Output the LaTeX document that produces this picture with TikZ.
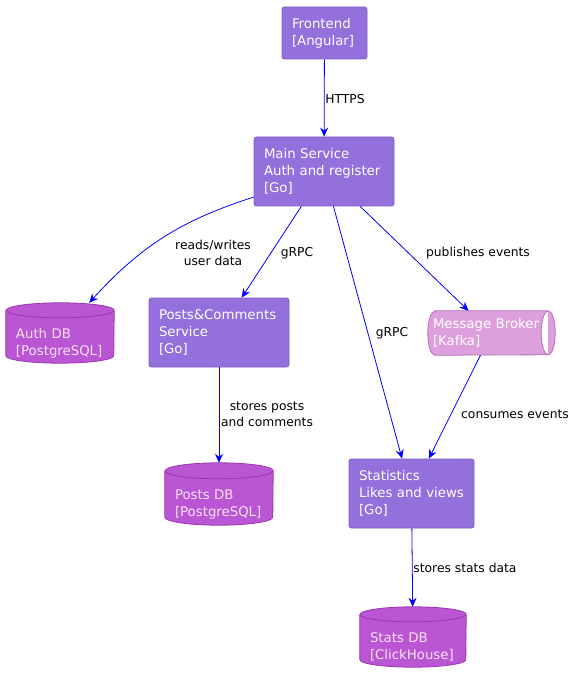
\documentclass[tikz,border=0pt]{standalone}
\usepackage{fontspec}
\usetikzlibrary{arrows.meta,calc,backgrounds}
\newfontfamily\dvsans{DejaVu Sans}
\definecolor{compfill}{HTML}{9370DB}
\definecolor{compline}{HTML}{7E5BC4}
\definecolor{dbfill}{HTML}{BA55D3}
\definecolor{dbline}{HTML}{9B35B3}
\definecolor{dbtext}{HTML}{F6E2F6}
\definecolor{mqfill}{HTML}{DDA0DD}
\definecolor{mqline}{HTML}{B56EBF}
% upright cylinder round a node: [style](node)(x radius:y radius)
\def\dbcyl[#1](#2)(#3:#4){\draw[#1] ($(#2.north west)+(0pt,-#4)$) -- ($(#2.south west)+(0pt,#4)$) arc (180:360:#3 and #4) -- ($(#2.north east)+(0pt,-#4)$) arc (0:180:#3 and #4) -- cycle ($(#2.north west)+(0pt,-#4)$) arc (180:360:#3 and #4);}
% lying cylinder round a node: [style](node)(x radius:y radius)
\def\mqcyl[#1](#2)(#3:#4){\draw[#1] ($(#2.north west)+(#3,0pt)$) -- ($(#2.north east)+(-#3,0pt)$) arc (90:-90:#3 and #4) -- ($(#2.south west)+(#3,0pt)$) arc (270:90:#3 and #4) -- cycle ($(#2.north east)+(-#3,0pt)$) arc (90:270:#3 and #4);}
\tikzset{
	comp/.style={rectangle, draw=compline, fill=compfill, rounded corners=2.5pt, text=white, align=left,
		font=\dvsans\fontsize{13.3}{17}\selectfont, inner xsep=10pt, inner ysep=0pt, line width=0.8pt},
	queue/.style={rectangle, text=white, align=left,
		font=\dvsans\fontsize{13.3}{17}\selectfont, inner xsep=5pt, inner ysep=0pt},
	store/.style={queue, text=dbtext, inner xsep=10pt, execute at begin node={\rule{0pt}{30pt}}},
	rel/.style={draw=blue, line width=0.8pt, -{Stealth[length=9pt,width=8pt,inset=3pt]}},
	lbl/.style={font=\dvsans\fontsize{12.3}{16}\selectfont, align=center, inner sep=0pt}
}

\begin{document}
\begin{tikzpicture}[x=1pt, y=-1pt]
			%%%%% START %%%%%
			\useasboundingbox (0, 0) rectangle (577, 684);
			
			\node[comp, text width=65, minimum width=85, minimum height=52] (front) at (324.5, 33) {Frontend\\{[Angular]}};
			\node[comp, text width=120, minimum width=140, minimum height=69] (main) at (324, 171.5) {Main Service\\Auth and register\\{[Go]}};
			\node[comp, text width=120, minimum width=140, minimum height=69] (posts) at (219, 332.5) {Posts\&Comments\\Service\\{[Go]}};
			\node[comp, text width=105, minimum width=125, minimum height=69] (stats) at (411.5, 493.5) {Statistics\\Likes and views\\{[Go]}};
			
			\node[store, text width=88, minimum width=108, minimum height=60] (authdb) at (60, 333) {Auth DB\\{[PostgreSQL]}};
			\node[store, text width=88, minimum width=108, minimum height=62] (postsdb) at (219, 494) {Posts DB\\{[PostgreSQL]}};
			\node[store, text width=86, minimum width=106, minimum height=60] (statsdb) at (413, 637) {Stats DB\\{[ClickHouse]}};
			
			\node[queue, text width=117, minimum width=127, minimum height=44] (broker) at (491.5, 333) {Message Broker\\{[Kafka]}};
			
			\begin{scope}[on background layer]
				\dbcyl[fill=dbfill, draw=dbline, line width=0.8pt](authdb)(54pt:7.5pt)
				\dbcyl[fill=dbfill, draw=dbline, line width=0.8pt](postsdb)(54pt:8pt)
				\dbcyl[fill=dbfill, draw=dbline, line width=0.8pt](statsdb)(53pt:7.5pt)
				\mqcyl[fill=mqfill, draw=mqline, line width=0.8pt](broker)(7pt:22pt)
			\end{scope}
			
			\draw[rel] (front) -- (main);
			\draw[rel] (main.200) to[bend right=15] (authdb.46);
			\draw[rel] (main) -- (posts);
			\draw[rel] (main) -- (stats);
			\draw[rel] (main) -- (broker);
			\draw[rel] (broker) -- (stats);
			\draw[rel] (posts) -- (postsdb);
			\draw[rel] (stats) -- (statsdb);
			
			\node[lbl] (lhttps) at (345, 99) {HTTPS};
			\node[lbl] (lauth) at (213, 253) {reads/writes\\user data};
			\node[lbl] (lgrpca) at (297, 253) {gRPC};
			\node[lbl] (lgrpcb) at (392, 333) {gRPC};
			\node[lbl] (lpub) at (478, 253) {publishes events};
			\node[lbl] (lcons) at (515, 414) {consumes events};
			\node[lbl] (lstore) at (267, 414) {stores posts\\and comments};
			\node[lbl] (lstats) at (465, 568) {stores stats data};
			
			%%%%% END %%%%%
		\end{tikzpicture}
\end{document}
